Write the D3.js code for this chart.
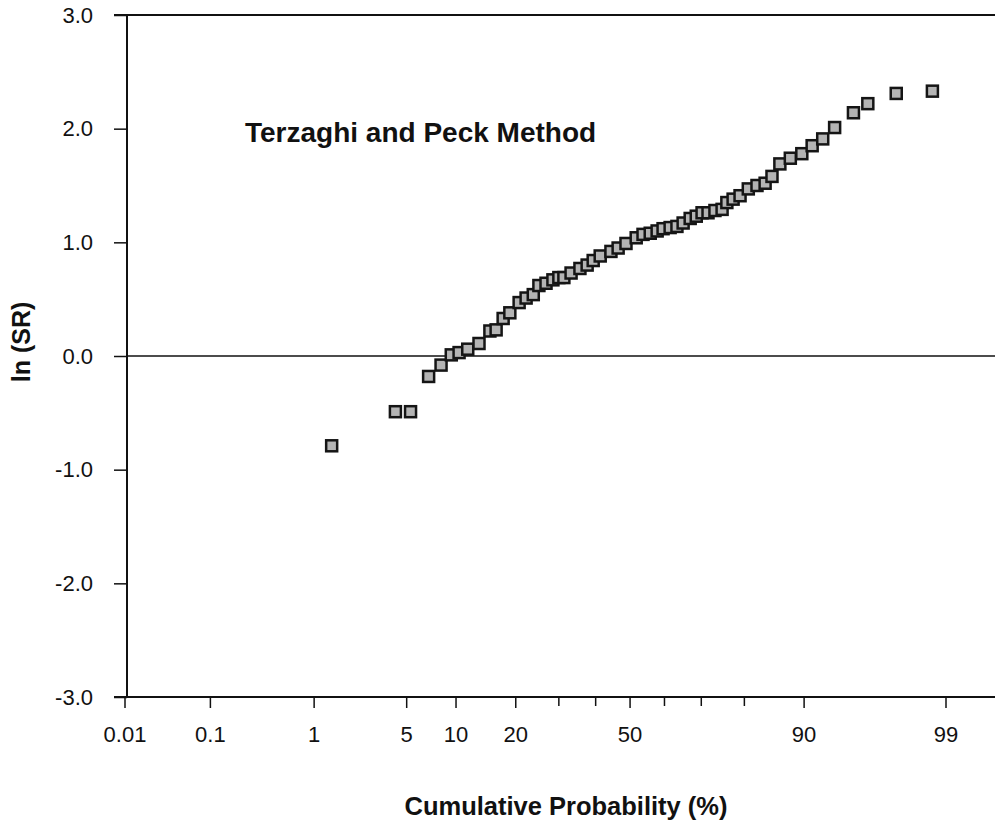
<!DOCTYPE html>
<html>
<head>
<meta charset="utf-8">
<script src="https://cdn.jsdelivr.net/npm/d3@7"></script>
<style>
  body { margin: 0; background: #fff; }
  text { font-family: "Liberation Sans", Arial, Helvetica, sans-serif; fill: #111; }
</style>
</head>
<body>
<div id="chart"></div>
<script>
// cumulative probability (%) of each point
var probs = [1.4, 4.2, 5.3, 6.9, 8.2, 9.4, 10.4, 11.6, 13.3, 15.1,
  16.2, 17.5, 18.8, 20.7, 22.2, 23.8, 25.1, 26.8, 28.5, 30.0,
  31.3, 33.2, 35.6, 37.6, 39.3, 41.3, 44.4, 46.5, 48.8, 51.8,
  53.8, 55.9, 57.9, 59.6, 61.6, 63.5, 65.2, 67.1, 68.7, 70.2,
  71.7, 73.4, 75.1, 76.2, 77.6, 79.1, 80.8, 82.5, 84.0, 85.2,
  86.5, 88.1, 89.7, 91.0, 92.2, 93.4, 95.0, 96.0, 97.5, 98.7];
// ln(SR) of each point
var lnSR = [-0.79, -0.49, -0.49, -0.18, -0.08, 0.01, 0.03, 0.06, 0.11, 0.22,
  0.23, 0.33, 0.38, 0.47, 0.51, 0.54, 0.62, 0.64, 0.67, 0.69,
  0.69, 0.73, 0.77, 0.80, 0.84, 0.88, 0.92, 0.95, 0.99, 1.04,
  1.07, 1.08, 1.10, 1.12, 1.13, 1.14, 1.17, 1.21, 1.23, 1.26,
  1.26, 1.28, 1.29, 1.35, 1.38, 1.41, 1.47, 1.50, 1.52, 1.58,
  1.69, 1.74, 1.78, 1.85, 1.91, 2.01, 2.14, 2.22, 2.31, 2.33];

var xTickLabels = [0.01, 0.1, 1, 5, 10, 20, 50, 90, 99];
var xMinorTicks = [30, 40, 60, 70, 80];
var yTicks = [-3, -2, -1, 0, 1, 2, 3];

// inverse normal CDF (Acklam)
function probit(p) {
  var a = [-39.69683028665376, 220.9460984245205, -275.9285104469687, 138.3577518672690, -30.66479806614716, 2.506628277459239];
  var b = [-54.47609879822406, 161.5858368580409, -155.6989798598866, 66.80131188771972, -13.28068155288572];
  var c = [-0.007784894002430293, -0.3223964580411365, -2.400758277161838, -2.549732539343734, 4.374664141464968, 2.938163982698783];
  var d = [0.007784695709041462, 0.3224671290700398, 2.445134137142996, 3.754408661907416];
  var plow = 0.02425, q, r;
  if (p < plow) {
    q = Math.sqrt(-2 * Math.log(p));
    return (((((c[0]*q+c[1])*q+c[2])*q+c[3])*q+c[4])*q+c[5]) / ((((d[0]*q+d[1])*q+d[2])*q+d[3])*q+1);
  }
  if (p > 1 - plow) {
    q = Math.sqrt(-2 * Math.log(1 - p));
    return -(((((c[0]*q+c[1])*q+c[2])*q+c[3])*q+c[4])*q+c[5]) / ((((d[0]*q+d[1])*q+d[2])*q+d[3])*q+1);
  }
  q = p - 0.5; r = q * q;
  return (((((a[0]*r+a[1])*r+a[2])*r+a[3])*r+a[4])*r+a[5])*q / (((((b[0]*r+b[1])*r+b[2])*r+b[3])*r+b[4])*r+1);
}

drawChart();

function drawChart() {
  var W = 995, H = 836;
  var mLeft = 127, mRight = 995, mTop = 15, mBottom = 697;

  var svg = d3.select("#chart").append("svg").attr("width", W).attr("height", H);

  var zScale = d3.scaleLinear().domain([probit(0.0001), probit(0.99)]).range([125, 946]);
  var x = function(pct) { return zScale(probit(pct / 100)); };
  var y = d3.scaleLinear().domain([-3, 3]).range([mBottom, mTop]);

  // top line and zero line
  svg.append("line").attr("x1", mLeft - 13).attr("x2", mRight).attr("y1", mTop).attr("y2", mTop)
    .attr("stroke", "#111").attr("stroke-width", 2);
  svg.append("line").attr("x1", mLeft).attr("x2", mRight).attr("y1", y(0)).attr("y2", y(0))
    .attr("stroke", "#111").attr("stroke-width", 1.5);

  // y axis
  var yAxis = svg.append("g").attr("transform", "translate(" + mLeft + ",0)")
    .call(d3.axisLeft(y).tickValues(yTicks).tickSize(13).tickPadding(21)
      .tickFormat(function(d) { return d.toFixed(1); }));
  yAxis.select(".domain").remove();
  yAxis.append("line").attr("x1", 0).attr("x2", 0).attr("y1", mTop).attr("y2", mBottom)
    .attr("stroke", "#111").attr("stroke-width", 2);
  yAxis.selectAll(".tick line").attr("stroke", "#111").attr("stroke-width", 1.5);
  yAxis.selectAll(".tick text").attr("font-size", 22).attr("fill", "#111")
    .attr("font-family", "Liberation Sans, Arial, sans-serif");

  // x axis
  var xg = svg.append("g").attr("transform", "translate(0," + mBottom + ")");
  xg.append("line").attr("x1", mLeft - 13).attr("x2", mRight).attr("y1", 0).attr("y2", 0)
    .attr("stroke", "#111").attr("stroke-width", 2);
  xg.selectAll(".major").data(xTickLabels).enter().append("line")
    .attr("x1", function(d) { return x(d); }).attr("x2", function(d) { return x(d); })
    .attr("y1", 0).attr("y2", 11).attr("stroke", "#111").attr("stroke-width", 1.5);
  xg.selectAll(".minor").data(xMinorTicks).enter().append("line")
    .attr("x1", function(d) { return x(d); }).attr("x2", function(d) { return x(d); })
    .attr("y1", 0).attr("y2", 9).attr("stroke", "#111").attr("stroke-width", 1.5);
  xg.selectAll(".lab").data(xTickLabels).enter().append("text")
    .attr("x", function(d) { return x(d); }).attr("y", 45)
    .attr("text-anchor", "middle").attr("font-size", 22)
    .text(function(d) { return d; });

  // points
  var size = 11;
  svg.append("g").selectAll("rect").data(probs).enter().append("rect")
    .attr("x", function(d) { return x(d) - size / 2; })
    .attr("y", function(d, i) { return y(lnSR[i]) - size / 2; })
    .attr("width", size).attr("height", size)
    .attr("fill", "#b4b4b4").attr("stroke", "#151515").attr("stroke-width", 2.5);

  // labels
  svg.append("text").attr("x", 245).attr("y", 142).attr("font-size", 28)
    .attr("font-weight", "bold").text("Terzaghi and Peck Method");
  svg.append("text").attr("x", 566).attr("y", 815).attr("text-anchor", "middle")
    .attr("font-size", 25.5).attr("font-weight", "bold").text("Cumulative Probability (%)");
  svg.append("text").attr("transform", "translate(30,342) rotate(-90)")
    .attr("text-anchor", "middle").attr("font-size", 25).attr("font-weight", "bold")
    .text("ln (SR)");
}
</script>
</body>
</html>
